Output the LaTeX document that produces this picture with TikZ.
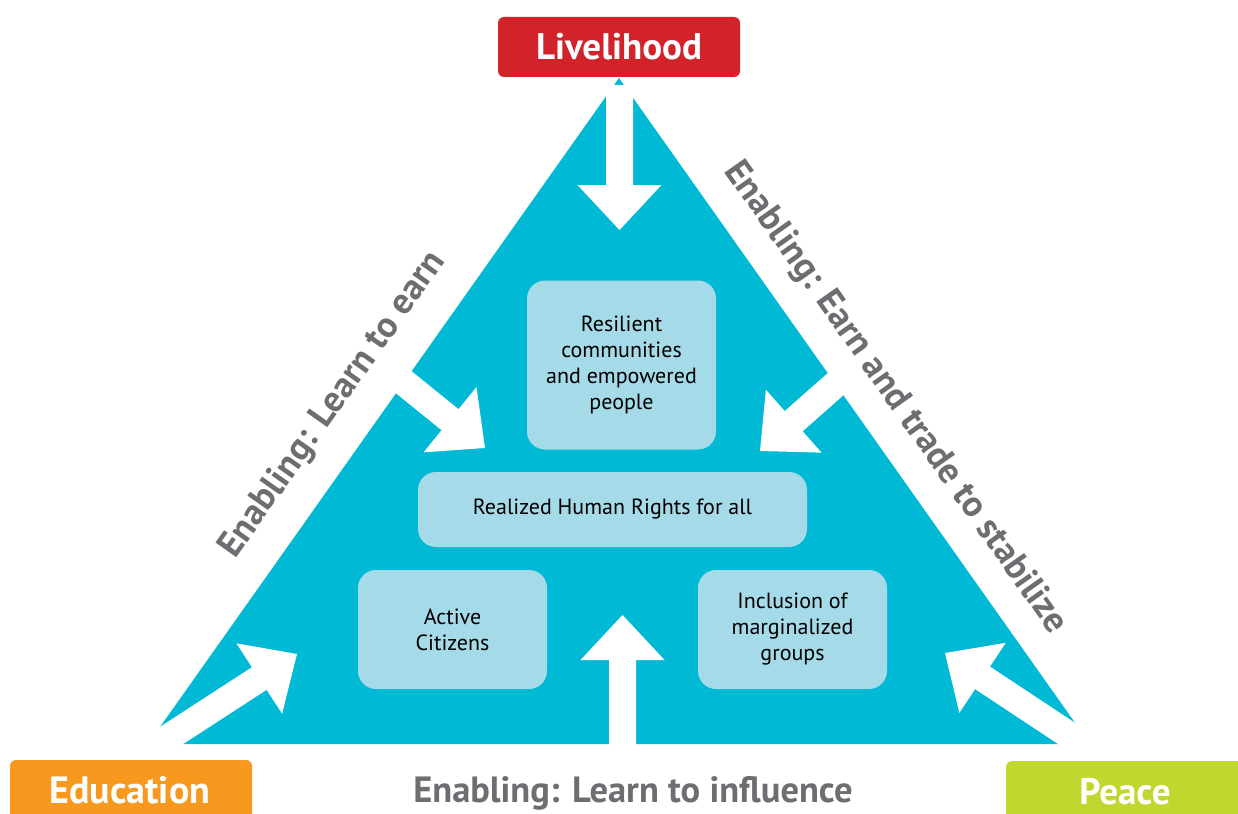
\documentclass[tikz,border=0pt]{standalone}
\usepackage{fontspec}
\setmainfont{PT Sans}
\definecolor{tricyan}{RGB}{0,185,212}
\definecolor{boxblue}{RGB}{165,219,232}
\definecolor{pillarred}{RGB}{210,35,42}
\definecolor{pillarorange}{RGB}{247,153,30}
\definecolor{pillargreen}{RGB}{193,215,48}
\definecolor{labelgrey}{RGB}{109,110,113}
\begin{document}
\begin{tikzpicture}[x=1pt,y=-1pt,
  outcome/.style={fill=boxblue, rounded corners=18pt, align=center,
    font=\fontsize{22}{26}\selectfont, text=black, inner sep=0pt},
  pillar/.style={rounded corners=6pt, text=white,
    font=\bfseries\fontsize{37}{40}\selectfont, inner sep=0pt},
  enabling/.style={text=labelgrey, font=\bfseries\fontsize{36.5}{40}\selectfont, inner sep=0pt},
  warrow/.pic={\fill[white] (0,0) -- (-45,42) -- (-45,13.5) -- (-#1,13.5)
    -- (-#1,-13.5) -- (-45,-13.5) -- (-45,-42) -- cycle;}]
\path[use as bounding box, clip] (0,0) rectangle (1238,813);
\fill[white] (0,0) rectangle (1238,813);

% the triangle
\fill[tricyan] (619,78) -- (1090,744) -- (148,744) -- cycle;

% white arrows cutting into the triangle
\path (619.5,230) pic[rotate=-90] {warrow=145};
\path (485,448) pic[rotate=-39] {warrow=140};
\path (760,451) pic[rotate=221.5] {warrow=140};
\path (297,654) pic[rotate=33] {warrow=175};
\path (945,653) pic[rotate=146.5] {warrow=175};
\path (622.5,615) pic[rotate=90] {warrow=140};

% outcomes
\node[outcome, minimum width=189pt, minimum height=169pt] (resilient) at (621.5,365)
  {Resilient\\communities\\and empowered\\people};
\node[outcome, minimum width=389pt, minimum height=75pt] (rights) at (612.5,509.5)
  {Realized Human Rights for all};
\node[outcome, minimum width=189pt, minimum height=119pt] (active) at (452.5,629.5)
  {Active\\Citizens};
\node[outcome, minimum width=189pt, minimum height=119pt] (inclusion) at (792.5,629.5)
  {Inclusion of\\marginalized\\groups};

% pillars
\node[pillar, fill=pillarred, minimum width=242pt, minimum height=60pt] (livelihood) at (619,47) {Livelihood};
\fill[pillarorange, rounded corners=6pt] (10,760) rectangle (252,830);
\node[text=white, font=\bfseries\fontsize{38}{40}\selectfont, anchor=base] (education) at (130,803) {Education};
\fill[pillargreen, rounded corners=6pt] (1006,761) rectangle (1250,830);
\node[text=white, font=\bfseries\fontsize{37}{40}\selectfont, anchor=base] (peace) at (1125,804) {Peace};

% enabling labels
\node[enabling, rotate=54.8] (learnearn) at (333,405) {Enabling: Learn to earn};
\node[enabling, rotate=-54.8] (earntrade) at (895,398) {Enabling: Earn and trade to stabilize};
\node[enabling, anchor=base] (influence) at (633,802) {Enabling: Learn to influence};
\end{tikzpicture}
\end{document}
